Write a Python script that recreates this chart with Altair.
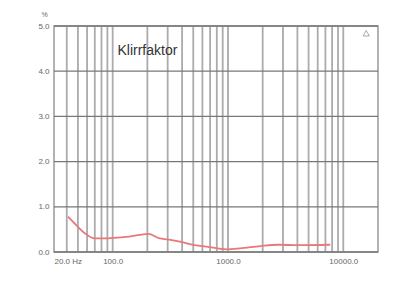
import altair as alt
import pandas as pd

# Curve: THD (%) vs frequency (Hz)
freq = [41, 48, 57, 70, 85, 108, 140, 172, 203, 256, 300, 383, 496, 652, 977, 1270, 1900, 2720, 4000, 7700]
thd = [0.78, 0.60, 0.42, 0.30, 0.30, 0.32, 0.34, 0.38, 0.40, 0.30, 0.28, 0.23, 0.16, 0.12, 0.06, 0.08, 0.13, 0.16, 0.15, 0.16]

# Axes
x_domain = [31, 20000]
y_domain = [0, 5]
x_tick_values = [31, 100, 1000, 10000]
x_tick_labels = ["20.0 Hz", "100.0", "1000.0", "10000.0"]
y_tick_values = [0, 1, 2, 3, 4, 5]
x_grid = [40, 50, 60, 70, 80, 90,
          200, 300, 400, 500, 600, 700, 800, 900, 1000,
          2000, 3000, 4000, 5000, 6000, 7000, 8000, 9000, 10000, 100]

title_text = ["Klirrfaktor"]
title_pos = [(110, 4.45)]
marker_pos = [(15800, 4.84)]

label_expr = "''"
for v, l in reversed(list(zip(x_tick_values, x_tick_labels))):
    label_expr = f"abs(datum.value - {v}) < 0.5 ? '{l}' : ({label_expr})"

x_axis = alt.Axis(values=x_tick_values, labelExpr=label_expr, grid=False, ticks=False,
                  domain=False, labelFlush=True, labelPadding=5, labelFontSize=8,
                  labelColor="#666666", title=None, labelFont="Liberation Sans")
y_axis = alt.Axis(values=y_tick_values, format=".1f", grid=False, ticks=False, domain=False,
                  labelPadding=5, labelFontSize=8, labelColor="#666666", title="%",
                  titleAngle=0, titleX=-10, titleY=-12, titleBaseline="middle", titleFontSize=7,
                  titleFontWeight="normal", titleColor="#666666", labelFont="Liberation Sans",
                  titleFont="Liberation Sans")

X = lambda: alt.X("f:Q", scale=alt.Scale(type="log", domain=x_domain, nice=False), axis=x_axis)
Y = lambda: alt.Y("v:Q", scale=alt.Scale(domain=y_domain, nice=False), axis=y_axis)

vgrid = alt.Chart(pd.DataFrame({"f": x_grid})).mark_rule(color="#ababab", strokeWidth=1.8).encode(x=X())
hgrid = alt.Chart(pd.DataFrame({"v": y_tick_values})).mark_rule(color="#777777", strokeWidth=1.3).encode(y=Y())

curve = alt.Chart(pd.DataFrame({"f": freq, "v": thd})).mark_line(
    color="#e8787a", strokeWidth=1.8, interpolate="monotone").encode(x=X(), y=Y())

label = alt.Chart(pd.DataFrame({"f": [p[0] for p in title_pos], "v": [p[1] for p in title_pos],
                                "t": title_text})).mark_text(
    align="left", baseline="middle", fontSize=14, color="#333333", font="Liberation Sans"
).encode(x=X(), y=Y(), text="t:N")

marker = alt.Chart(pd.DataFrame({"f": [p[0] for p in marker_pos], "v": [p[1] for p in marker_pos]})).mark_point(
    shape="triangle-up", filled=False, size=40, color="#888888", strokeWidth=1).encode(x=X(), y=Y())

chart = alt.layer(vgrid, hgrid, curve, label, marker).properties(
    width=324, height=226,
    autosize=alt.AutoSizeParams(type="none"),
    padding={"left": 46, "top": 18, "right": 12, "bottom": 22},
    background="white",
).configure_view(stroke="#999999", strokeWidth=1.5)

chart.save("out.html", embed_options={"renderer": "svg", "actions": False})
